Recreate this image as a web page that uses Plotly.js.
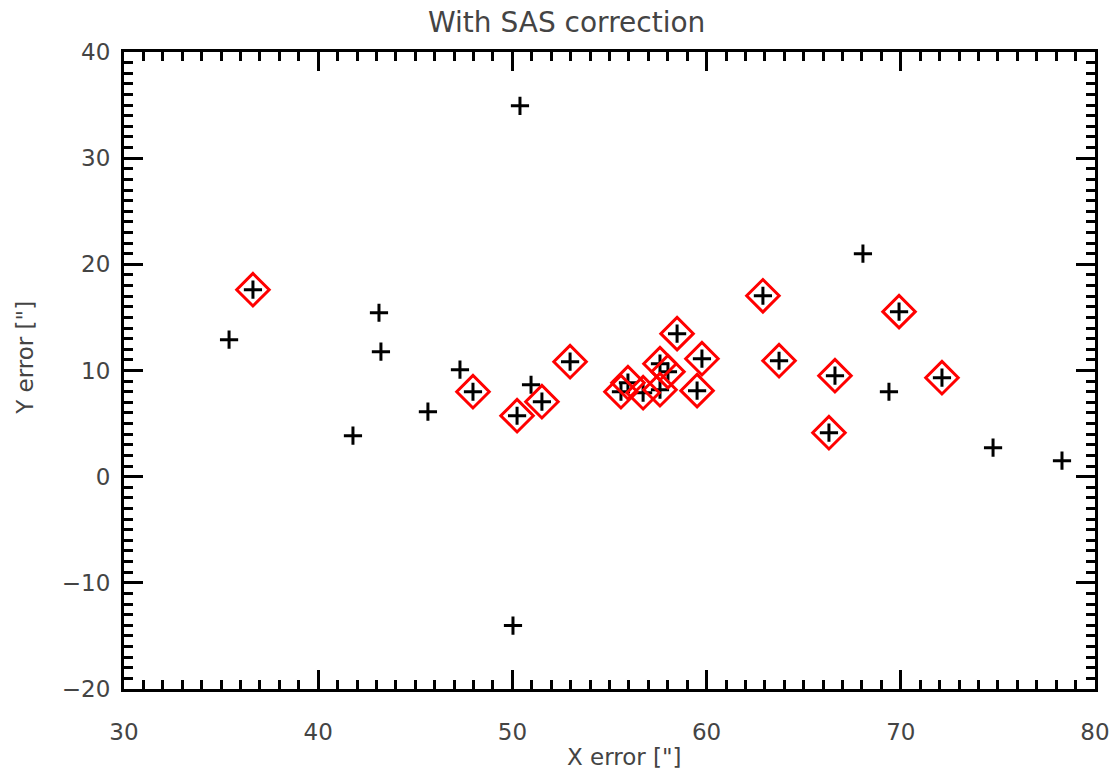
<!DOCTYPE html>
<html>
<head>
<meta charset="utf-8">
<script src="https://cdn.plot.ly/plotly-3.0.1.min.js"></script>
<style>html,body{margin:0;padding:0;background:#fff}#chart{width:1114px;height:773px}</style>
</head>
<body>
<div id="chart"></div>
<script>
// All measured points (black plus markers)
const allX = [35.41, 43.13, 43.23, 47.30, 45.65, 41.79, 50.96, 50.39, 50.03, 68.05, 69.39, 74.75, 78.30,
              36.64, 47.97, 50.24, 51.52, 52.97, 55.59, 55.95, 56.73, 57.60, 58.01, 57.60, 58.48, 59.76, 59.51,
              62.90, 63.73, 66.61, 66.30, 69.91, 72.12];
const allY = [12.90, 15.44, 11.77, 10.08, 6.12, 3.86, 8.66, 34.93, -14.03, 21.00, 8.00, 2.73, 1.51,
              17.61, 8.00, 5.74, 7.06, 10.83, 8.00, 8.85, 7.91, 10.64, 9.89, 8.19, 13.47, 11.11, 8.10,
              17.04, 10.92, 9.51, 4.14, 15.54, 9.32];
// Subset marked with red diamonds
const selX = [36.64, 47.97, 50.24, 51.52, 52.97, 55.59, 55.95, 56.73, 57.60, 58.01, 57.60, 58.48, 59.76, 59.51,
              62.90, 63.73, 66.61, 66.30, 69.91, 72.12];
const selY = [17.61, 8.00, 5.74, 7.06, 10.83, 8.00, 8.85, 7.91, 10.64, 9.89, 8.19, 13.47, 11.11, 8.10,
              17.04, 10.92, 9.51, 4.14, 15.54, 9.32];

const titleText = 'With SAS correction';
const xTitle = 'X error ["]';
const yTitle = 'Y error ["]';
const xTicks = [30, 40, 50, 60, 70, 80];
const yTicks = [-20, -10, 0, 10, 20, 30, 40];

const fontFam = '"DejaVu Sans", sans-serif';
const txtColor = '#444444';

const traces = [
  {x: allX, y: allY, type: 'scatter', mode: 'markers',
   marker: {symbol: 'cross-thin', size: 13, color: '#000', line: {color: '#000', width: 3}},
   hoverinfo: 'skip', showlegend: false},
  {x: selX, y: selY, type: 'scatter', mode: 'markers',
   marker: {symbol: 'diamond-open', size: 25, color: '#ff0000', line: {color: '#ff0000', width: 3}},
   hoverinfo: 'skip', showlegend: false}
];

const axisCommon = {
  showgrid: false, zeroline: false,
  showline: true, linecolor: '#000', linewidth: 3, mirror: 'ticks',
  ticks: 'inside', ticklen: 19, tickwidth: 3, tickcolor: '#000',
  tickfont: {family: fontFam, size: 23, color: txtColor},
  minor: {ticks: 'inside', ticklen: 9, tickwidth: 3, tickcolor: '#000', dtick: 1, showgrid: false}
};

const layout = {
  width: 1114, height: 773,
  margin: {l: 124, r: 19, t: 52, b: 84},
  paper_bgcolor: '#fff', plot_bgcolor: '#fff',
  showlegend: false,
  xaxis: Object.assign({}, axisCommon, {range: [30, 80], tickvals: xTicks, ticktext: xTicks.map(String), ticklabelstandoff: 20}),
  yaxis: Object.assign({}, axisCommon, {range: [-20, 40], tickvals: yTicks, ticktext: yTicks.map(v => v < 0 ? '\u2212' + Math.abs(v) : String(v)), ticklabelstandoff: 6}),
  annotations: [
    {text: titleText, xref: 'paper', yref: 'paper', x: 0.456, y: 1, yshift: 30, xanchor: 'center', yanchor: 'middle',
     showarrow: false, font: {family: fontFam, size: 28, color: txtColor}},
    {text: xTitle, xref: 'paper', yref: 'paper', x: 0.515, y: 0, yshift: -68, xanchor: 'center', yanchor: 'middle',
     showarrow: false, font: {family: fontFam, size: 23, color: txtColor}},
    {text: yTitle, xref: 'paper', yref: 'paper', x: 0, xshift: -99, y: 0.52, xanchor: 'center', yanchor: 'middle',
     textangle: -90, showarrow: false, font: {family: fontFam, size: 23, color: txtColor}}
  ]
};

Plotly.newPlot('chart', traces, layout, {displayModeBar: false, staticPlot: true});
</script>
</body>
</html>
